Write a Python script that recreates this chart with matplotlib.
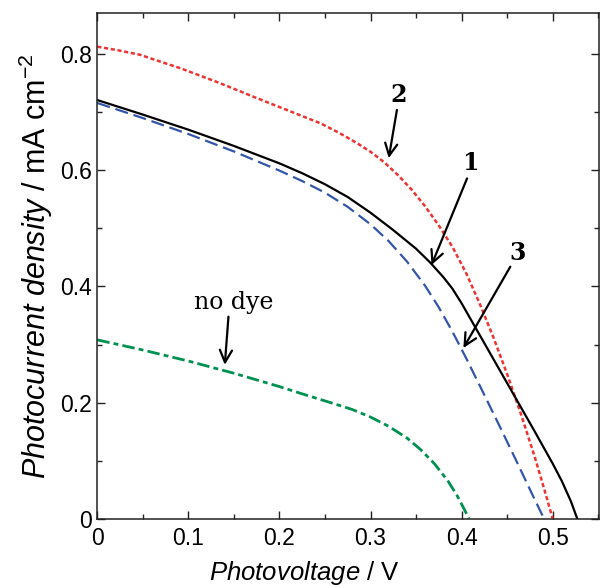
import matplotlib
matplotlib.use("Agg")
import matplotlib.pyplot as plt
from matplotlib.ticker import MultipleLocator

plt.rcParams['font.family'] = ['Liberation Sans', 'DejaVu Sans']
plt.rcParams['mathtext.fontset'] = 'custom'
plt.rcParams['mathtext.rm'] = 'Liberation Sans'
plt.rcParams['mathtext.it'] = 'Liberation Sans:italic'
plt.rcParams['lines.scale_dashes'] = False

# Curve 1 (black, solid)
v1 = [0, 0.05, 0.10, 0.15, 0.20, 0.225, 0.25, 0.275, 0.30, 0.325, 0.35, 0.365,
      0.38, 0.39, 0.40, 0.42, 0.44, 0.46, 0.48, 0.50, 0.51, 0.52, 0.527]
j1 = [0.721, 0.696, 0.670, 0.642, 0.612, 0.595, 0.576, 0.554, 0.527, 0.497, 0.465,
      0.442, 0.416, 0.396, 0.371, 0.316, 0.261, 0.206, 0.151, 0.095, 0.065, 0.030, 0.0]

# Curve 2 (red, short dashes)
v2 = [0, 0.022, 0.047, 0.062, 0.091, 0.135, 0.171, 0.208, 0.245, 0.265, 0.285,
      0.30, 0.315, 0.33, 0.345, 0.36, 0.375, 0.39, 0.405, 0.42, 0.435, 0.45,
      0.465, 0.48, 0.49, 0.50]
j2 = [0.813, 0.807, 0.799, 0.791, 0.776, 0.750, 0.727, 0.704, 0.681, 0.665, 0.647,
      0.632, 0.614, 0.592, 0.567, 0.538, 0.505, 0.468, 0.423, 0.370, 0.312, 0.249,
      0.181, 0.108, 0.055, 0.0]

# Curve 3 (blue, long dashes)
v3 = [0, 0.05, 0.10, 0.15, 0.20, 0.225, 0.25, 0.275, 0.30, 0.32, 0.34, 0.36,
      0.375, 0.39, 0.405, 0.42, 0.44, 0.46, 0.48, 0.4905]
j3 = [0.716, 0.690, 0.6625, 0.6325, 0.5995, 0.5815, 0.5615, 0.537, 0.507, 0.478,
      0.443, 0.401, 0.364, 0.322, 0.2765, 0.229, 0.165, 0.100, 0.034, 0.0]

# No dye (green, dash-dot)
v0 = [0, 0.05, 0.10, 0.15, 0.20, 0.23, 0.26, 0.28, 0.30, 0.32, 0.34, 0.355, 0.37,
      0.385, 0.395, 0.403, 0.408]
j0 = [0.308, 0.2905, 0.2715, 0.2505, 0.2275, 0.2125, 0.198, 0.188, 0.175, 0.159,
      0.139, 0.119, 0.095, 0.065, 0.040, 0.016, 0.0]

xticks = [0, 0.1, 0.2, 0.3, 0.4, 0.5]
xticklabels = ['0', '0.1', '0.2', '0.3', '0.4', '0.5']
yticks = [0, 0.2, 0.4, 0.6, 0.8]
yticklabels = ['0', '0.2', '0.4', '0.6', '0.8']

fig = plt.figure(figsize=(6.0, 5.88), dpi=100)
ax = fig.add_axes([0.1622, 0.1179, 0.8363, 0.8600])

ax.plot(v0, j0, color='#009050', lw=2.0, dashes=(9, 3, 3.5, 3))
ax.plot(v3, j3, color='#3355AA', lw=1.6, dashes=(9.5, 4.2))
ax.plot(v2, j2, color='#EE3333', lw=1.8, dashes=(3.0, 1.9))
ax.plot(v1, j1, color='black', lw=1.6)

ax.set_xlim(0, 0.551)
ax.set_ylim(0, 0.871)
ax.set_xticks(xticks)
ax.set_xticklabels(xticklabels)
ax.set_yticks(yticks)
ax.set_yticklabels(yticklabels)
ax.xaxis.set_minor_locator(MultipleLocator(0.05))
ax.yaxis.set_minor_locator(MultipleLocator(0.1))
ax.tick_params(which='both', direction='in', top=True, right=True, width=1.0,
               labelsize=16.5, color='#222222')
ax.tick_params(which='major', length=6)
ax.tick_params(which='minor', length=3.4)
ax.tick_params(axis='x', pad=6)
ax.tick_params(axis='y', pad=4)
for s in ax.spines.values():
    s.set_linewidth(1.1)
    s.set_color('#222222')

fig.text(304 / 600, 1 - 573 / 588, r'$\it{Photovoltage}$ / V', fontsize=18.5,
         ha='center', va='center')
fig.text(36 / 600, 1 - 266 / 588, r'$\it{Photocurrent\ density}$ / mA cm$^{-2}$',
         fontsize=22, ha='center', va='center', rotation=90)

serif = ['DejaVu Serif']
arrow = dict(arrowstyle='->', lw=1.6, color='black', mutation_scale=22,
             shrinkA=0, shrinkB=0)
ax.text(0.331, 0.730, '2', fontsize=17, fontweight='bold', family=serif,
        ha='center', va='center')
ax.annotate('', xy=(0.320, 0.621), xytext=(0.329, 0.704), arrowprops=arrow)
ax.text(0.410, 0.613, '1', fontsize=17, fontweight='bold', family=serif,
        ha='center', va='center')
ax.annotate('', xy=(0.367, 0.437), xytext=(0.406, 0.586), arrowprops=arrow)
ax.text(0.461, 0.458, '3', fontsize=17, fontweight='bold', family=serif,
        ha='center', va='center')
ax.annotate('', xy=(0.402, 0.294), xytext=(0.4535, 0.434), arrowprops=arrow)
ax.text(0.150, 0.372, 'no dye', fontsize=17, family=serif,
        ha='center', va='center')
ax.annotate('', xy=(0.140, 0.265), xytext=(0.144, 0.348), arrowprops=arrow)

fig.savefig('out.png', dpi=100)
